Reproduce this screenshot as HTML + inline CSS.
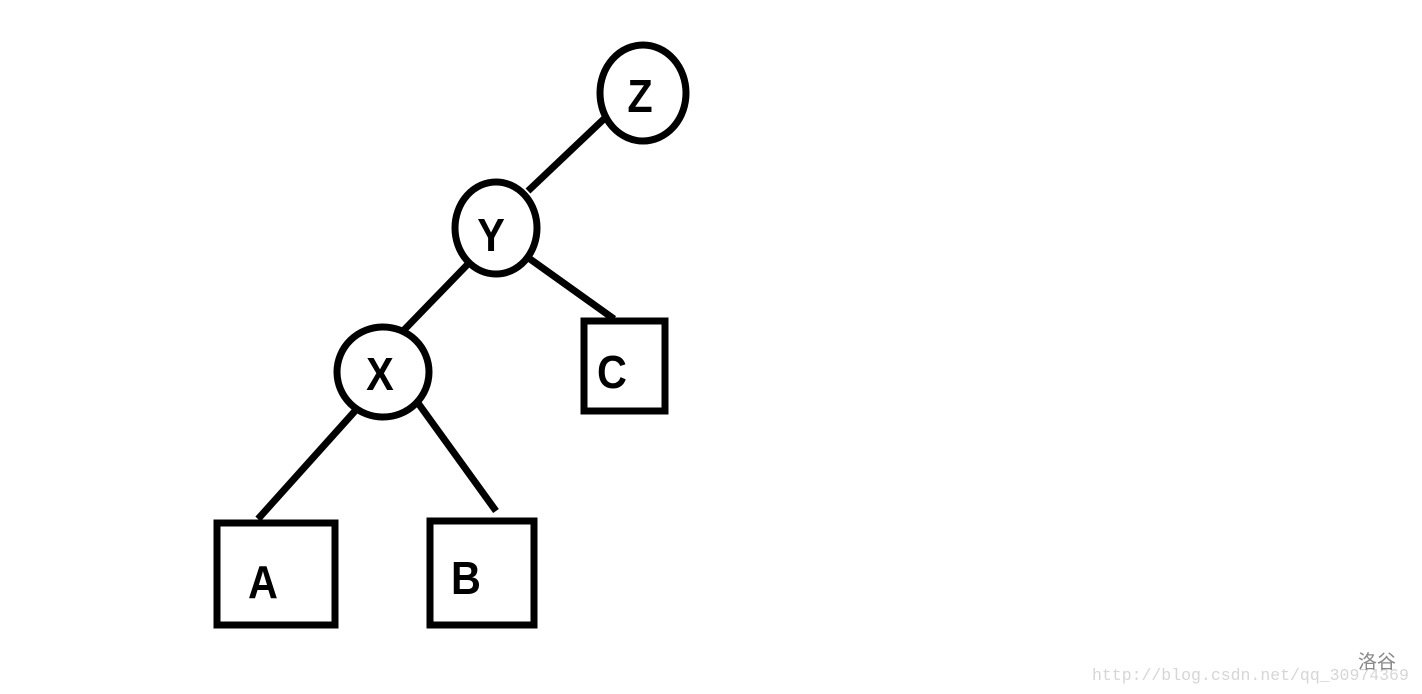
<!DOCTYPE html>
<html><head><meta charset="utf-8"><style>html,body{margin:0;padding:0;background:#fff;width:1422px;height:694px;overflow:hidden}</style></head>
<body>
<svg width="1422" height="694" xmlns="http://www.w3.org/2000/svg">
<g stroke="#000" stroke-width="7" fill="none">
<line x1="606" y1="117" x2="528" y2="191"/>
<line x1="467" y1="265" x2="404" y2="330"/>
<line x1="530" y1="259" x2="614" y2="319"/>
<line x1="355" y1="411" x2="258" y2="519"/>
<line x1="418" y1="403" x2="496" y2="511"/>
<ellipse cx="643" cy="93" rx="43" ry="48" fill="#fff"/>
<ellipse cx="496" cy="228" rx="41" ry="46" fill="#fff"/>
<ellipse cx="383" cy="372" rx="46" ry="45" fill="#fff"/>
<rect x="584" y="321" width="81" height="90" fill="#fff"/>
<rect x="217" y="523" width="118" height="102" fill="#fff"/>
<rect x="430" y="521" width="104" height="104" fill="#fff"/>
</g>
<g font-family="Liberation Sans, DejaVu Sans, sans-serif" font-weight="bold" font-size="46" text-anchor="middle" fill="#000">
<text x="640" y="112" transform="translate(640 0) scale(0.9 1) translate(-640 0)">Z</text>
<text x="491" y="251" transform="translate(491 0) scale(0.9 1) translate(-491 0)">Y</text>
<text x="380" y="390" transform="translate(380 0) scale(0.9 1) translate(-380 0)">X</text>
<text x="612" y="388" transform="translate(612 0) scale(0.9 1) translate(-612 0)">C</text>
<text x="263" y="598" transform="translate(263 0) scale(0.9 1) translate(-263 0)">A</text>
<text x="466" y="594" transform="translate(466 0) scale(0.9 1) translate(-466 0)">B</text>
</g>
<text x="1092" y="680" font-family="Liberation Mono, monospace" font-size="16.5" fill="#d6d6d6">http://blog.csdn.net/qq_30974369</text>
<text x="1358" y="668" font-family="Noto Sans CJK SC, sans-serif" font-size="19" fill="#888">洛谷</text>
</svg>
</body></html>
